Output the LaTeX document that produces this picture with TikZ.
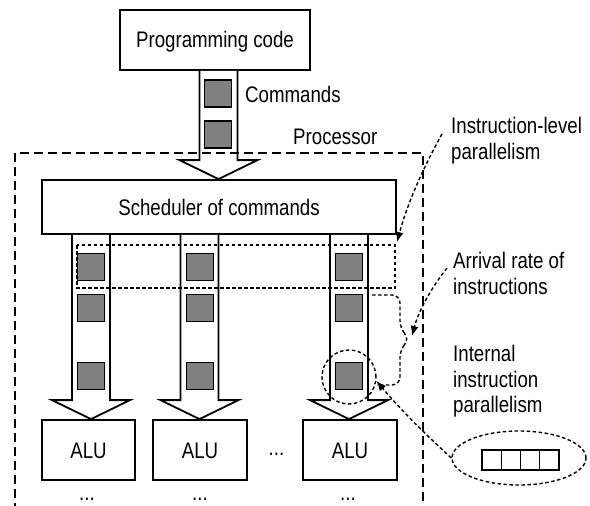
\documentclass[tikz,border=0pt]{standalone}
\usepackage{fontspec}
\setmainfont{Liberation Sans}[FakeStretch=0.83]
\usetikzlibrary{arrows.meta,shapes.geometric,calc}
\definecolor{cmdgray}{RGB}{128,128,128}

% hollow block arrow down a column: #1 column coordinate, #2 source node, #3 target node
\newcommand\flowarrow[3]{%
  \path[flow] ($(#2.south -| #1)+(-19,0)$) -- ($(#3.north -| #1)+(-19,-19)$)
    -- ($(#3.north -| #1)+(-39,-19)$) -- (#3.north -| #1)
    -- ($(#3.north -| #1)+(39,-19)$) -- ($(#3.north -| #1)+(19,-19)$)
    -- ($(#2.south -| #1)+(19,0)$);}

\begin{document}
\begin{tikzpicture}[x=1pt,y=-1pt,
  every node/.style={font=\fontsize{22.5}{26}\selectfont},
  box/.style={draw,line width=1.8pt,fill=white,inner sep=0pt,
    text height=16pt,text depth=0pt},
  cmd/.style={draw,line width=1.3pt,fill=cmdgray,minimum size=27pt,inner sep=0pt},
  cell/.style={draw,line width=1.4pt,fill=white,minimum width=19.25pt,
    minimum height=20pt,inner sep=0pt},
  flow/.style={draw,line width=1.8pt,fill=white,line join=miter},
  dots/.style={line width=1.4pt,dash pattern=on 3.5pt off 2.5pt},
  frame/.style={line width=1.1pt,dash pattern=on 9pt off 5pt},
  pointer/.style={dots,-{Latex[length=10pt,width=8pt]}},
  lbl/.style={anchor=base west,inner sep=0pt},
  etc/.style={anchor=base,inner sep=0pt}]

\useasboundingbox (0,0) rectangle (590,506);

% boxes
\node[box,minimum width=190pt,minimum height=60pt] (code) at (215,40) {Programming code};
\node[box,minimum width=354pt,minimum height=54pt] (sched) at (219,207) {Scheduler of commands};
\node[box,minimum width=93pt,minimum height=60pt] (alu1) at (88.5,450) {ALU};
\node[box,minimum width=94pt,minimum height=60pt] (alu2) at (200,450) {ALU};
\node[box,minimum width=94pt,minimum height=60pt] (alu3) at (350,450) {ALU};

% column positions of the flows
\coordinate (col0) at (218.5,0);
\coordinate (col1) at (91,0);
\coordinate (col2) at (199.5,0);
\coordinate (col3) at (349,0);

% block arrows
\flowarrow{col0}{code}{sched}
\flowarrow{col1}{sched}{alu1}
\flowarrow{col2}{sched}{alu2}
\flowarrow{col3}{sched}{alu3}

% commands travelling along the flows
\node[cmd] (k01) at (218,93.5) {};
\node[cmd] (k02) at (218,134.5) {};
\node[cmd] (k11) at (91,267) {};
\node[cmd] (k12) at (91,308) {};
\node[cmd] (k13) at (91,376) {};
\node[cmd] (k21) at (200,267) {};
\node[cmd] (k22) at (200,308) {};
\node[cmd] (k23) at (200,376) {};
\node[cmd] (k31) at (349,267) {};
\node[cmd] (k32) at (349,308) {};
\node[cmd] (k33) at (349,376) {};

% processor boundary
\draw[frame] (15,512) -- (15,153) -- (423,153) -- (423,512);

% instruction-level band and arrival brace
\draw[dots] (77,245) rectangle (395,288);
\draw[dots,rounded corners=8pt] (372,295) -- (400,295) -- (400,329) -- (410,339)
  -- (400,349) -- (400,385) -- (377,385);
\node[draw,dots,circle,minimum size=54pt,inner sep=0pt] (focus) at (349,377) {};

% zoomed instruction word
\node[draw,dots,ellipse,minimum width=134pt,minimum height=54pt,inner sep=0pt]
  (word) at (519,458) {};
\node[cell] (w0) at (491.6,460) {};
\node[cell] (w1) at (510.9,460) {};
\node[cell] (w2) at (530.1,460) {};
\node[cell] (w3) at (549.4,460) {};

% labels
\node[lbl] (tcmd) at (245,102) {Commands};
\node[lbl] (tproc) at (293,144) {Processor};
\node[lbl] (tilp1) at (451,133) {Instruction-level};
\node[lbl] (tilp2) at (451,159) {parallelism};
\node[lbl] (tarr1) at (453,268.5) {Arrival rate of};
\node[lbl] (tarr2) at (453,294.5) {instructions};
\node[lbl] (tint1) at (453,361.5) {Internal};
\node[lbl] (tint2) at (453,387) {instruction};
\node[lbl] (tint3) at (453,412.5) {parallelism};

\node[etc] (e0) at (276.5,455) {...};
\node[etc] (e1) at (87,500) {...};
\node[etc] (e2) at (200,500) {...};
\node[etc] (e3) at (348,500) {...};

% pointers
\coordinate (ilpfrom) at (442,134);
\coordinate (ilpto) at (397,242);
\coordinate (arrfrom) at (447,268);
\coordinate (arrto) at (412,336);
\draw[pointer] (ilpfrom) .. controls (422,170) and (407,205) .. (ilpto);
\draw[pointer] (arrfrom) .. controls (429,291) and (418,313) .. (arrto);
\draw[pointer] (word.west) .. controls (424,433) and (400,409) .. (focus.-8);
\end{tikzpicture}
\end{document}
